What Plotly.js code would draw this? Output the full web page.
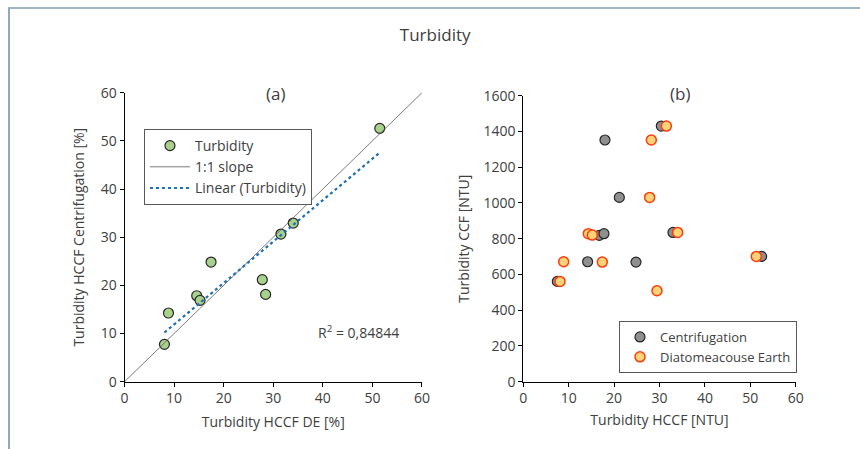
<!DOCTYPE html>
<html>
<head>
<meta charset="utf-8">
<script src="https://cdn.plot.ly/plotly-3.0.1.min.js"></script>
<style>
html,body{margin:0;padding:0;background:#fff;}
#frame{position:absolute;left:8px;top:7px;width:852px;height:442px;border-top:2px solid #9fb6c3;border-left:2px solid #8fa9b8;box-sizing:border-box;}
#chart{position:absolute;left:0;top:0;width:860px;height:449px;}
</style>
</head>
<body>
<div id="frame"></div>
<div id="chart"></div>
<script>
// Panel (a): Turbidity HCCF DE [%] vs Turbidity HCCF Centrifugation [%]
const deTurbA   = [8.05, 8.86, 14.56, 15.23, 17.45, 27.79, 28.46, 31.54, 34.03, 51.48];
const centTurbA = [7.75, 14.26, 17.85, 16.89, 24.84, 21.18, 18.13, 30.66, 32.94, 52.6];
const slopeLine = [0, 60];
const r2Label = "R<sup>2</sup> = 0,84844";

// Panel (b): Turbidity HCCF [NTU] vs Turbidity CCF [NTU]
const centHCCF = [7.49, 14.17, 16.74, 17.77, 17.99, 21.15, 24.82, 30.40, 32.97, 52.5];
const centCCF  = [561, 671, 819, 828, 1352, 1031, 669, 1430, 835, 701];
const deHCCF   = [8.08, 8.89, 14.32, 15.20, 17.40, 28.20, 27.83, 29.45, 31.51, 34.0, 51.33];
const deCCF    = [561, 671, 828, 820, 669, 1352, 1031, 509, 1430, 835, 701];

// least-squares linear trend for panel (a)
function linfit(x, y) {
  const n = x.length;
  const mx = x.reduce((a,b)=>a+b,0)/n, my = y.reduce((a,b)=>a+b,0)/n;
  let sxy = 0, sxx = 0;
  for (let i=0;i<n;i++){ sxy += (x[i]-mx)*(y[i]-my); sxx += (x[i]-mx)*(x[i]-mx); }
  const m = sxy/sxx; return {m, b: my - m*mx};
}
const fit = linfit(deTurbA, centTurbA);
const fx = [Math.min(...deTurbA), Math.max(...deTurbA)];
const fy = fx.map(v => fit.m*v + fit.b);

const FONT = "Open Sans, sans-serif";
const TXT = "#404040";
const FS = 14;

const traces = [
  {x: deTurbA, y: centTurbA, type:'scatter', mode:'markers', name:'Turbidity',
   marker:{size:10, color:'#a9d18e', line:{color:'#262626', width:1.2}},
   xaxis:'x', yaxis:'y', legend:'legend'},
  {x: slopeLine, y: slopeLine, type:'scatter', mode:'lines', name:'1:1 slope',
   line:{color:'#595959', width:0.8}, xaxis:'x', yaxis:'y', legend:'legend'},
  {x: fx, y: fy, type:'scatter', mode:'lines', name:'Linear (Turbidity)',
   line:{color:'#1f6fb2', width:2.2, dash:'dot'}, xaxis:'x', yaxis:'y', legend:'legend'},
  {x: centHCCF, y: centCCF, type:'scatter', mode:'markers', name:'Centrifugation',
   marker:{size:10, color:'#8f8f8f', line:{color:'#262626', width:1.2}},
   xaxis:'x2', yaxis:'y2', legend:'legend2'},
  {x: deHCCF, y: deCCF, type:'scatter', mode:'markers', name:'Diatomeacouse Earth',
   marker:{size:10, color:'#ffd37a', line:{color:'#ff3b0a', width:1.5}},
   xaxis:'x2', yaxis:'y2', legend:'legend2'}
];

const axBase = {
  showgrid:false, zeroline:false, showline:true, linecolor:'#000', linewidth:1,
  ticks:'outside', ticklen:4, tickcolor:'#000',
  tickfont:{family:FONT, size:FS, color:TXT}, fixedrange:true
};

const layout = {
  width:860, height:449,
  margin:{l:0, r:0, t:0, b:0},
  paper_bgcolor:'rgba(0,0,0,0)', plot_bgcolor:'rgba(0,0,0,0)',
  font:{family:FONT, color:TXT},
  title:{text:'Turbidity', font:{family:FONT, size:17, color:TXT}, x:0.506, xanchor:'center', y:0.922, yanchor:'middle'},
  xaxis: Object.assign({}, axBase, {domain:[0.1448, 0.4907], range:[0,60], dtick:10,
    anchor:'y', title:{text:'Turbidity HCCF DE [%]', font:{family:FONT, size:FS, color:TXT}, standoff:10}}),
  yaxis: Object.assign({}, axBase, {domain:[0.1499, 0.7935], range:[0,60], dtick:10,
    anchor:'x', title:{text:'Turbidity HCCF Centrifugation [%]', font:{family:FONT, size:FS, color:TXT}, standoff:12}}),
  xaxis2: Object.assign({}, axBase, {domain:[0.6085, 0.9252], range:[0,60], dtick:10,
    anchor:'y2', title:{text:'Turbidity HCCF [NTU]', font:{family:FONT, size:FS, color:TXT}, standoff:8}}),
  yaxis2: Object.assign({}, axBase, {domain:[0.1499, 0.7869], range:[0,1600], dtick:200,
    anchor:'x2', title:{text:'Turbidity CCF [NTU]', font:{family:FONT, size:FS, color:TXT}, standoff:10}}),
  legend:{x:0.1674, y:(449-129)/449, xanchor:'left', yanchor:'top', bgcolor:'#fff',
    bordercolor:'#595959', borderwidth:1, font:{family:FONT, size:FS, color:TXT},
    tracegroupgap:0, itemwidth:40},
  legend2:{x:797/860, y:(449-321)/449, xanchor:'right', yanchor:'top', bgcolor:'#fff',
    bordercolor:'#595959', borderwidth:1, font:{family:FONT, size:13, color:TXT},
    tracegroupgap:0, itemwidth:30},
  annotations:[
    {text:'(a)', xref:'paper', yref:'paper', x:275/860, y:(449-93)/449, showarrow:false,
     font:{family:FONT, size:17, color:TXT}, xanchor:'center', yanchor:'middle'},
    {text:'(b)', xref:'paper', yref:'paper', x:680/860, y:(449-93)/449, showarrow:false,
     font:{family:FONT, size:17, color:TXT}, xanchor:'center', yanchor:'middle'},
    {text:r2Label, xref:'x', yref:'y', x:47.2, y:10.4, showarrow:false,
     font:{family:FONT, size:FS, color:TXT}, xanchor:'center', yanchor:'middle'}
  ],
  showlegend:true
};

Plotly.newPlot('chart', traces, layout, {displayModeBar:false, staticPlot:true});
</script>
</body>
</html>
